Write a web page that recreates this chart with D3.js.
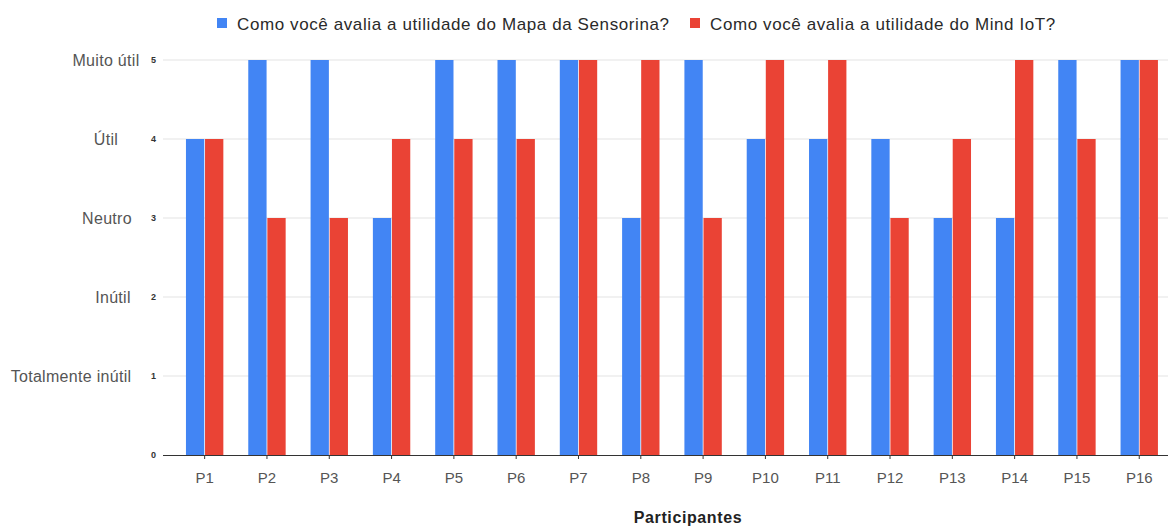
<!DOCTYPE html>
<html>
<head>
<meta charset="utf-8">
<script src="https://cdn.jsdelivr.net/npm/d3@7"></script>
<style>
  html, body { margin: 0; padding: 0; background: #fff; }
  svg { display: block; font-family: "Liberation Sans", Arial, sans-serif; }
</style>
</head>
<body>
<svg id="chart" width="1168" height="527"></svg>
<script>
// Participants on the x axis
const participants = ["P1","P2","P3","P4","P5","P6","P7","P8","P9","P10","P11","P12","P13","P14","P15","P16"];

// Series names (legend entries)
const seriesNames = [
  "Como você avalia a utilidade do Mapa da Sensorina?",
  "Como você avalia a utilidade do Mind IoT?"
];

// Ratings given by each participant (0–5 scale)
const mapaSensorina = [4, 5, 5, 3, 5, 5, 5, 3, 5, 4, 4, 4, 3, 3, 5, 5];
const mindIoT       = [4, 3, 3, 4, 4, 4, 5, 5, 3, 5, 5, 3, 4, 5, 4, 5];

// Numeric y ticks and their verbal scale
const yTicks = [0, 1, 2, 3, 4, 5];
const scaleLabels = [
  { value: 5, text: "Muito útil" },
  { value: 4, text: "Útil" },
  { value: 3, text: "Neutro" },
  { value: 2, text: "Inútil" },
  { value: 1, text: "Totalmente inútil" }
];

// Horizontal centre for each verbal label
const scaleLabelX = { 5: 106, 4: 106, 3: 107, 2: 113, 1: 71 };

const colors = ["#4285F4", "#EA4335"];

const svg = d3.select("#chart");

const gridLeft = 163, gridRight = 1168;
const x = d3.scaleBand()
  .domain(participants)
  .range([173.5, 1170.4])
  .paddingInner(0.4)
  .paddingOuter(0.2);

const xInner = d3.scaleBand()
  .domain([0, 1])
  .range([0, x.bandwidth()])
  .paddingInner(0.04);

const y = d3.scaleLinear().domain([0, 5]).range([455, 60]);

// Gridlines
svg.append("g")
  .selectAll("line")
  .data(yTicks.filter(d => d > 0))
  .join("line")
  .attr("x1", gridLeft).attr("x2", gridRight)
  .attr("y1", d => y(d)).attr("y2", d => y(d))
  .attr("stroke", "#e3e3e3").attr("stroke-width", 1);

// Bars
const series = [mapaSensorina, mindIoT];
const groups = svg.append("g")
  .selectAll("g")
  .data(participants)
  .join("g")
  .attr("transform", d => `translate(${x(d)},0)`);

groups.selectAll("rect")
  .data((p, i) => series.map((s, k) => ({ k, v: s[i] })))
  .join("rect")
  .attr("x", d => xInner(d.k))
  .attr("width", xInner.bandwidth())
  .attr("y", d => y(d.v))
  .attr("height", d => y(0) - y(d.v))
  .attr("fill", d => colors[d.k]);

// X axis
const xAxis = d3.axisBottom(x).tickSize(4).tickPadding(13).tickSizeOuter(0);
const gx = svg.append("g")
  .attr("transform", `translate(0,${y(0)})`)
  .call(xAxis);
gx.select(".domain").remove();
gx.append("line")
  .attr("x1", gridLeft).attr("x2", gridRight)
  .attr("y1", 0.5).attr("y2", 0.5)
  .attr("stroke", "#333").attr("stroke-width", 1);
gx.selectAll(".tick line").attr("stroke", "#333");
gx.selectAll(".tick text")
  .attr("fill", "#555")
  .style("font-size", "15px")
  .style("font-family", "Liberation Sans, Arial, sans-serif");

// Numeric y ticks
const yAxis = d3.axisLeft(y).tickValues(yTicks).tickSize(0).tickPadding(0).tickFormat(d3.format("d"));
const gy = svg.append("g")
  .attr("transform", `translate(156,0)`)
  .call(yAxis);
gy.select(".domain").remove();
gy.selectAll(".tick text")
  .attr("fill", "#333")
  .style("font-size", "9px")
  .style("font-weight", "bold")
  .style("font-family", "Liberation Sans, Arial, sans-serif");

// Verbal scale labels
svg.append("g")
  .selectAll("text")
  .data(scaleLabels)
  .join("text")
  .attr("x", d => scaleLabelX[d.value])
  .attr("y", d => y(d.value) + 2)
  .attr("text-anchor", "middle")
  .attr("dominant-baseline", "middle")
  .attr("fill", "#555")
  .style("font-size", "16px")
  .style("letter-spacing", "0.3px")
  .text(d => d.text);

// Axis title
svg.append("text")
  .attr("x", 688)
  .attr("y", 523)
  .attr("text-anchor", "middle")
  .attr("fill", "#222")
  .style("font-size", "16px")
  .style("font-weight", "bold")
  .style("letter-spacing", "0.6px")
  .text("Participantes");

// Legend
const legendX = [217, 690];
const legend = svg.append("g")
  .selectAll("g")
  .data(seriesNames)
  .join("g")
  .attr("transform", (d, i) => `translate(${legendX[i]},0)`);
legend.append("rect")
  .attr("x", 0).attr("y", 18)
  .attr("width", 10).attr("height", 10)
  .attr("fill", (d, i) => colors[i]);
legend.append("text")
  .attr("x", 20).attr("y", 30)
  .attr("fill", "#2a2a2a")
  .style("font-size", "17px")
  .style("letter-spacing", "0.6px")
  .text(d => d);
</script>
</body>
</html>
